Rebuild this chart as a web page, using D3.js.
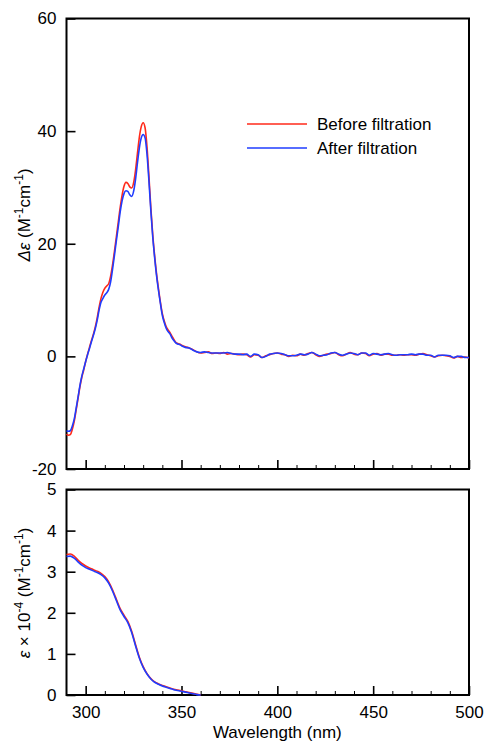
<!DOCTYPE html>
<html><head><meta charset="utf-8">
<script src="https://cdn.jsdelivr.net/npm/d3@7"></script>
<style>
html,body{margin:0;padding:0;background:#fff;}
svg{display:block;font-family:"Liberation Sans",Arial,Helvetica,sans-serif;}
</style></head>
<body><svg id="c" width="485" height="744"></svg>
<script>
// ---- CD data (top panel) ----
const cdWl = [290,291,292,293,294,295,296,297,298,299,300,301,302,303,304,305,306,307,308,309,310,311,312,313,314,315,316,317,318,319,320,321,322,323,324,325,326,327,328,329,330,331,332,333,334,335,336,337,338,339,340,341,342,343,344,345,346,347,348,349,350,352,354,356,358,360,
362,364,366,368,370,372,374,376,378,380,382,384,386,388,390,392,394,396,398,400,402,404,406,408,410,412,414,416,418,420,422,424,426,428,430,432,434,436,438,440,442,444,446,448,450,452,454,456,458,460,462,464,466,468,470,472,474,476,478,480,482,484,486,488,490,492,494,496,498,500];
const cdBefore = [-13.8,-14.0,-13.9,-13.0,-11.6,-9.6,-7.5,-5.4,-3.7,-2.4,-0.9,0.4,1.6,2.8,3.9,5.2,6.8,8.7,10.3,11.4,12.1,12.5,12.9,14.2,16.2,18.6,21.2,23.8,26.4,28.6,30.2,30.9,30.7,30.1,29.9,30.8,33.0,36.0,38.9,40.8,41.5,40.6,37.2,32.0,26.4,21.6,17.8,14.6,12.0,9.6,7.6,6.3,5.3,4.7,4.2,3.6,3.0,2.5,2.3,2.2,2.0,1.7,1.5,1.2,0.8,0.6,
0.7,0.8,0.5,0.6,0.5,0.7,0.4,0.5,0.4,0.3,0.4,0.3,-0.1,0.3,0.2,-0.2,0.1,0.3,0.5,0.6,0.4,0.3,0.0,0.2,0.1,0.4,0.2,0.5,0.7,0.3,0.0,0.2,0.4,0.5,0.7,0.3,0.1,0.4,0.7,0.4,0.3,0.6,0.5,0.1,0.4,0.5,0.2,0.4,0.4,0.2,0.2,0.3,0.2,0.3,0.3,0.2,0.4,0.5,0.3,0.1,-0.1,0.1,0.2,0.1,0.0,-0.3,0.0,-0.2,-0.1,-0.3];
const cdAfter = [-13.2,-13.3,-13.2,-12.4,-11.2,-9.3,-7.3,-5.2,-3.5,-2.2,-0.9,0.3,1.4,2.6,3.7,4.9,6.4,8.2,9.6,10.3,10.9,11.3,11.9,13.2,15.4,17.9,20.5,23.0,25.6,27.6,28.9,29.4,29.3,28.7,28.4,29.3,31.4,34.3,37.0,38.8,39.4,38.8,35.9,31.2,25.9,21.2,17.5,14.3,11.7,9.4,7.3,6.0,5.0,4.4,4.0,3.3,2.8,2.4,2.2,2.1,1.9,1.6,1.5,1.1,0.8,0.7,
0.8,0.7,0.6,0.6,0.6,0.6,0.7,0.5,0.4,0.4,0.3,0.4,0.0,0.4,0.3,-0.2,0.0,0.4,0.5,0.6,0.5,0.3,0.1,0.1,0.2,0.4,0.3,0.4,0.7,0.4,0.1,0.2,0.3,0.6,0.7,0.4,0.2,0.4,0.6,0.5,0.3,0.6,0.6,0.2,0.5,0.4,0.3,0.4,0.5,0.3,0.2,0.3,0.3,0.3,0.4,0.3,0.4,0.4,0.2,0.2,-0.1,0.2,0.2,0.2,0.1,-0.2,0.0,0.0,-0.2,-0.2];

// ---- UV data (bottom panel), epsilon x 10^-4 ----
const uvWl = [290,292,294,296,298,300,302,304,306,308,310,312,314,316,318,320,322,324,326,328,330,332,334,336,338,340,342,344,346,348,350,352,354,356,358,360];
const uvBefore = [3.42,3.43,3.38,3.28,3.20,3.14,3.09,3.05,3.01,2.96,2.88,2.75,2.56,2.33,2.10,1.94,1.79,1.55,1.23,0.92,0.69,0.52,0.40,0.32,0.27,0.23,0.20,0.17,0.14,0.12,0.10,0.08,0.06,0.04,0.02,0.0];
const uvAfter = [3.37,3.38,3.33,3.24,3.16,3.10,3.06,3.02,2.98,2.93,2.85,2.72,2.53,2.30,2.07,1.91,1.76,1.52,1.20,0.90,0.67,0.51,0.39,0.31,0.26,0.22,0.19,0.16,0.13,0.11,0.09,0.07,0.05,0.03,0.01,0.0];

// ---- tick labels / legend ----
const xMajor = [300,350,400,450,500];
const xMinor = [300,310,320,330,340,350,360,370,380,390,400,410,420,430,440,450,460,470,480,490];
const cdTicks = [-20,0,20,40,60];
const uvTicks = [0,1,2,3,4,5];
const seriesNames = ["Before filtration","After filtration"];
const colors = ["#ff2a1a","#1f3cff"];

const svg = d3.select("#c");
const FS = 17;
const x = d3.scaleLinear().domain([290,500]).range([66.5,469]);
const yTop = d3.scaleLinear().domain([-20,60]).range([469,18.5]);
const yBot = d3.scaleLinear().domain([0,5]).range([695,489.5]);
const fmt = d => String(d);

function panel(y, ticks, showXLabels){
  const [y0,y1] = y.range();
  const gmin = svg.append("g").attr("transform",`translate(0,${y0})`)
    .call(d3.axisBottom(x).tickValues(xMinor.filter(v=>!xMajor.includes(v))).tickSize(-4).tickSizeOuter(0).tickFormat(""));
  gmin.select(".domain").remove();
  gmin.selectAll("line").attr("stroke-width",1);
  const gmaj = svg.append("g").attr("transform",`translate(0,${y0})`)
    .call(d3.axisBottom(x).tickValues(xMajor).tickSize(-9).tickSizeOuter(0).tickPadding(11)
      .tickFormat(showXLabels ? fmt : ""));
  gmaj.select(".domain").remove();
  gmaj.selectAll("line").attr("stroke-width",1.6);
  gmaj.selectAll("text").attr("font-size",FS).attr("font-family","Liberation Sans, Arial, sans-serif").attr("fill","#000");
  const gy = svg.append("g").attr("transform",`translate(${x.range()[0]},0)`)
    .call(d3.axisLeft(y).tickValues(ticks).tickSize(-9).tickSizeOuter(0).tickPadding(10).tickFormat(fmt));
  gy.select(".domain").remove();
  gy.selectAll("line").attr("stroke-width",1.6);
  gy.selectAll("text").attr("font-size",FS).attr("font-family","Liberation Sans, Arial, sans-serif").attr("fill","#000");
  svg.append("rect").attr("x",x.range()[0]).attr("y",y1).attr("width",x.range()[1]-x.range()[0]).attr("height",y0-y1)
    .attr("fill","none").attr("stroke","#000").attr("stroke-width",2);
}

panel(yTop, cdTicks, false);
panel(yBot, uvTicks, true);

function drawLine(xs, ys, y, color){
  const line = d3.line().x(d=>x(d[0])).y(d=>y(d[1])).curve(d3.curveMonotoneX);
  svg.append("path").datum(xs.map((v,i)=>[v,ys[i]])).attr("d",line)
    .attr("fill","none").attr("stroke",color).attr("stroke-width",1.6).attr("stroke-linejoin","round");
}
drawLine(cdWl, cdBefore, yTop, colors[0]);
drawLine(cdWl, cdAfter, yTop, colors[1]);
drawLine(uvWl, uvBefore, yBot, colors[0]);
drawLine(uvWl, uvAfter, yBot, colors[1]);

seriesNames.forEach((n,i)=>{
  const ly = 124 + i*24;
  svg.append("line").attr("x1",247).attr("x2",307).attr("y1",ly).attr("y2",ly).attr("stroke",colors[i]).attr("stroke-width",1.5);
  svg.append("text").attr("x",317).attr("y",ly+6).attr("font-size",FS).text(n);
});

function supText(t, parts){
  parts.forEach(p=>{
    const ts = t.append("tspan").text(p.t);
    if(p.i) ts.attr("font-style","italic");
    if(p.sup){ ts.attr("font-size",12).attr("dy",-7); }
    if(p.down){ ts.attr("dy",7); }
  });
}
const t1 = svg.append("text").attr("transform","translate(30,215) rotate(-90)").attr("text-anchor","middle").attr("font-size",FS);
supText(t1,[{t:"Δε",i:true},{t:" (M"},{t:"-1",sup:true},{t:"cm",down:true},{t:"-1",sup:true},{t:")",down:true}]);
const t2 = svg.append("text").attr("transform","translate(30,593) rotate(-90)").attr("text-anchor","middle").attr("font-size",FS);
supText(t2,[{t:"ε",i:true},{t:" × 10"},{t:"-4",sup:true},{t:" (M",down:true},{t:"-1",sup:true},{t:"cm",down:true},{t:"-1",sup:true},{t:")",down:true}]);
svg.append("text").attr("x",x(400)).attr("y",738).attr("text-anchor","middle").attr("font-size",FS).text("Wavelength (nm)");
</script></body></html>
